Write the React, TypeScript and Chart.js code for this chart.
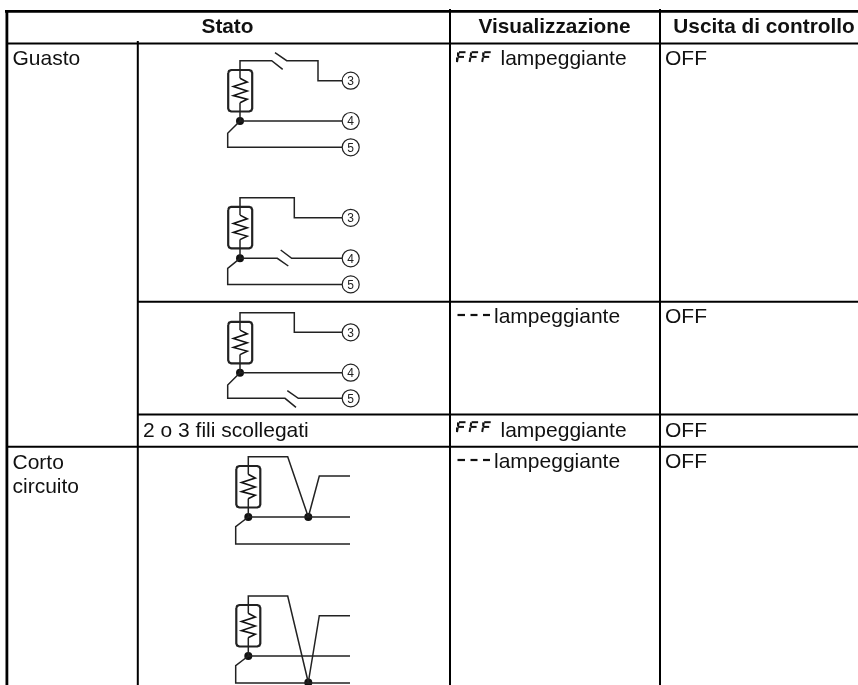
import React, { useEffect, useRef } from "react";
import { Chart, registerables } from "chart.js";

Chart.register(...registerables);

type P = [number, number];

// Table rules
const thickRules: P[][] = [
  [[5, 11.3], [858, 11.3]],
  [[6.9, 10], [6.9, 685]],
];
const rules: P[][] = [
  [[6, 43.5], [858, 43.5]],
  [[137.8, 41], [137.8, 685]],
  [[450, 9], [450, 685]],
  [[660, 9], [660, 685]],
  [[137, 301.7], [858, 301.7]],
  [[137, 414.4], [858, 414.4]],
  [[6, 446.8], [858, 446.8]],
];

// Sensor symbol, relative to the top-left corner of its box
const boxShape: P[] = [
  [0, 3], [0.9, 0.9], [3, 0], [21, 0], [23.1, 0.9], [24, 3],
  [24, 38.5], [23.1, 40.6], [21, 41.5], [3, 41.5], [0.9, 40.6], [0, 38.5], [0, 3],
];
const zigzagShape: P[] = [
  [11.8, 8.3], [19, 12], [5.2, 16.6], [19, 21], [5.2, 25.6], [19, 29.3], [11.8, 32.8],
];
const boxCorners: P[] = [
  [228.2, 70], [228.2, 206.8], [228.2, 321.8], [236.3, 466], [236.3, 605],
];

// Wires
const wires: P[][] = [
  // circuit 1
  [[240, 78.3], [240, 60.7], [271.7, 60.7], [282.7, 69.3]],
  [[275, 52.7], [286.7, 60.7], [318, 60.7], [318, 80.7], [342, 80.7]],
  [[240, 102.8], [240, 121], [342, 121]],
  [[240, 121], [227.7, 133.3], [227.7, 147.3], [342, 147.3]],
  // circuit 2
  [[240, 215], [240, 197.7], [294.3, 197.7], [294.3, 217.8], [342, 217.8]],
  [[240, 239.6], [240, 258.3], [277.3, 258.3], [288.3, 266]],
  [[280.7, 250], [291.7, 258.3], [342, 258.3]],
  [[240, 258.3], [227.7, 268.3], [227.7, 284.4], [342, 284.4]],
  // circuit 3
  [[240, 330], [240, 312.7], [294.3, 312.7], [294.3, 332.3], [342, 332.3]],
  [[240, 354.6], [240, 372.7], [342, 372.7]],
  [[240, 372.7], [227.7, 385], [227.7, 398.3], [285, 398.3], [296, 407.3]],
  [[287.3, 390.7], [298.3, 398.3], [342, 398.3]],
  // circuit 4
  [[248.3, 474.3], [248.3, 456.7], [287.7, 456.7], [308.3, 517]],
  [[308.3, 517], [319.3, 476], [350, 476]],
  [[248.3, 498.8], [248.3, 517], [350, 517]],
  [[248.3, 517], [235.7, 526.7], [235.7, 544], [350, 544]],
  // circuit 5
  [[248.3, 613.3], [248.3, 596], [287.7, 596], [308.3, 682.5]],
  [[308.3, 682.5], [319.3, 615.7], [350, 615.7]],
  [[248.3, 637.8], [248.3, 656], [350, 656]],
  [[248.3, 656], [235.7, 665.7], [235.7, 683], [350, 683]],
];

const nodes: P[] = [
  [240, 121], [240, 258.3], [240, 372.7], [248.3, 517], [308.3, 517], [248.3, 656], [308.3, 682.5],
];
const terminalValues: [number, number, string][] = [
  [350.7, 80.7, "3"], [350.7, 121, "4"], [350.7, 147.3, "5"],
  [350.7, 217.8, "3"], [350.7, 258.3, "4"], [350.7, 284.4, "5"],
  [350.7, 332.3, "3"], [350.7, 372.7, "4"], [350.7, 398.3, "5"],
];

// Seven-segment marks in the "Visualizzazione" column
const fGlyph: P[][] = [
  [[459, 0.7], [465.5, 0.7]],
  [[458, 5.4], [464, 5.4]],
  [[458.6, 1], [458, 5]],
  [[457.8, 6], [457, 10.5]],
];
const fOrigins: P[] = [
  [0, 51.5], [12.6, 51.5], [25.2, 51.5],
  [0, 421.5], [12.6, 421.5], [25.2, 421.5],
];
const dashes: P[][] = [
  [[457.5, 315], [465, 315]], [[470.5, 315], [477.5, 315]], [[483, 315], [490, 315]],
  [[457.5, 460], [465, 460]], [[470.5, 460], [477.5, 460]], [[483, 460], [490, 460]],
];

// Texts
const headers: [string, number, number][] = [
  ["Stato", 227.5, 33],
  ["Visualizzazione", 554.5, 33],
  ["Uscita di controllo", 764, 33],
];
const cellTexts: [string, number, number][] = [
  ["Guasto", 12.5, 65],
  ["Corto", 12.5, 469],
  ["circuito", 12.5, 493],
  ["2 o 3 fili scollegati", 143, 437],
  ["lampeggiante", 500.5, 65],
  ["lampeggiante", 494, 323],
  ["lampeggiante", 500.5, 437],
  ["lampeggiante", 494, 468],
  ["OFF", 665, 65],
  ["OFF", 665, 323],
  ["OFF", 665, 437],
  ["OFF", 665, 468],
];

const toXY = (p: P) => ({ x: p[0], y: p[1] });
const at = (shape: P[], o: P) => shape.map((p) => ({ x: p[0] + o[0], y: p[1] + o[1] }));
const line = (data: { x: number; y: number }[], borderWidth: number, borderColor = "#000") => ({
  type: "line" as const,
  data,
  borderWidth,
  borderColor,
  pointRadius: 0,
  fill: false,
  tension: 0,
  borderJoinStyle: "miter" as const,
  borderCapStyle: "butt" as const,
});

const textPlugin = {
  id: "tableText",
  afterDatasetsDraw(chart: Chart) {
    const { ctx, scales } = chart;
    const sx = scales.x;
    const sy = scales.y;
    ctx.save();
    ctx.fillStyle = "#111";
    ctx.textBaseline = "alphabetic";
    ctx.font = 'bold 20.8px "Liberation Sans"';
    ctx.textAlign = "center";
    headers.forEach(([t, x, y]) => ctx.fillText(t, sx.getPixelForValue(x), sy.getPixelForValue(y)));
    ctx.font = '21px "Liberation Sans"';
    ctx.textAlign = "left";
    cellTexts.forEach(([t, x, y]) => ctx.fillText(t, sx.getPixelForValue(x), sy.getPixelForValue(y)));
    ctx.font = '12px "Liberation Sans"';
    ctx.textAlign = "center";
    ctx.fillStyle = "#222";
    terminalValues.forEach(([x, y, t]) => ctx.fillText(t, sx.getPixelForValue(x), sy.getPixelForValue(y) + 4.3));
    ctx.restore();
  },
};

export default function App() {
  const ref = useRef<HTMLCanvasElement>(null);
  useEffect(() => {
    if (!ref.current) return;
    const datasets: any[] = [];
    thickRules.forEach((r) => datasets.push(line(r.map(toXY), 2.8)));
    rules.forEach((r) => datasets.push(line(r.map(toXY), 2)));
    wires.forEach((w) => datasets.push(line(w.map(toXY), 1.5, "#222")));
    boxCorners.forEach((c) => {
      datasets.push(line(at(boxShape, c), 2.2, "#222"));
      datasets.push(line(at(zigzagShape, c), 1.6, "#111"));
    });
    fOrigins.forEach((o) => fGlyph.forEach((s) => datasets.push(line(at(s, o), 2, "#111"))));
    dashes.forEach((d) => datasets.push(line(d.map(toXY), 2.2, "#111")));
    datasets.push({
      type: "scatter",
      data: terminalValues.map(([x, y]) => ({ x, y })),
      pointRadius: 8.5,
      pointBackgroundColor: "#fff",
      pointBorderColor: "#222",
      pointBorderWidth: 1.2,
      showLine: false,
    });
    datasets.push({
      type: "scatter",
      data: nodes.map(toXY),
      pointRadius: 4,
      pointBackgroundColor: "#111",
      pointBorderWidth: 0,
      showLine: false,
    });
    const chart = new Chart(ref.current, {
      type: "line",
      data: { datasets },
      plugins: [textPlugin],
      options: {
        animation: false,
        responsive: false,
        layout: { padding: 0, autoPadding: false },
        events: [],
        plugins: { legend: { display: false }, tooltip: { enabled: false } },
        scales: {
          x: { type: "linear", min: 0, max: 858, display: false },
          y: { type: "linear", min: 0, max: 685, reverse: true, display: false },
        },
      },
    });
    return () => chart.destroy();
  }, []);
  return (
    <div style={{ position: "fixed", left: 0, top: 0, width: 858, height: 685, background: "#fff" }}>
      <canvas ref={ref} width={858} height={685} style={{ display: "block" }} />
    </div>
  );
}
